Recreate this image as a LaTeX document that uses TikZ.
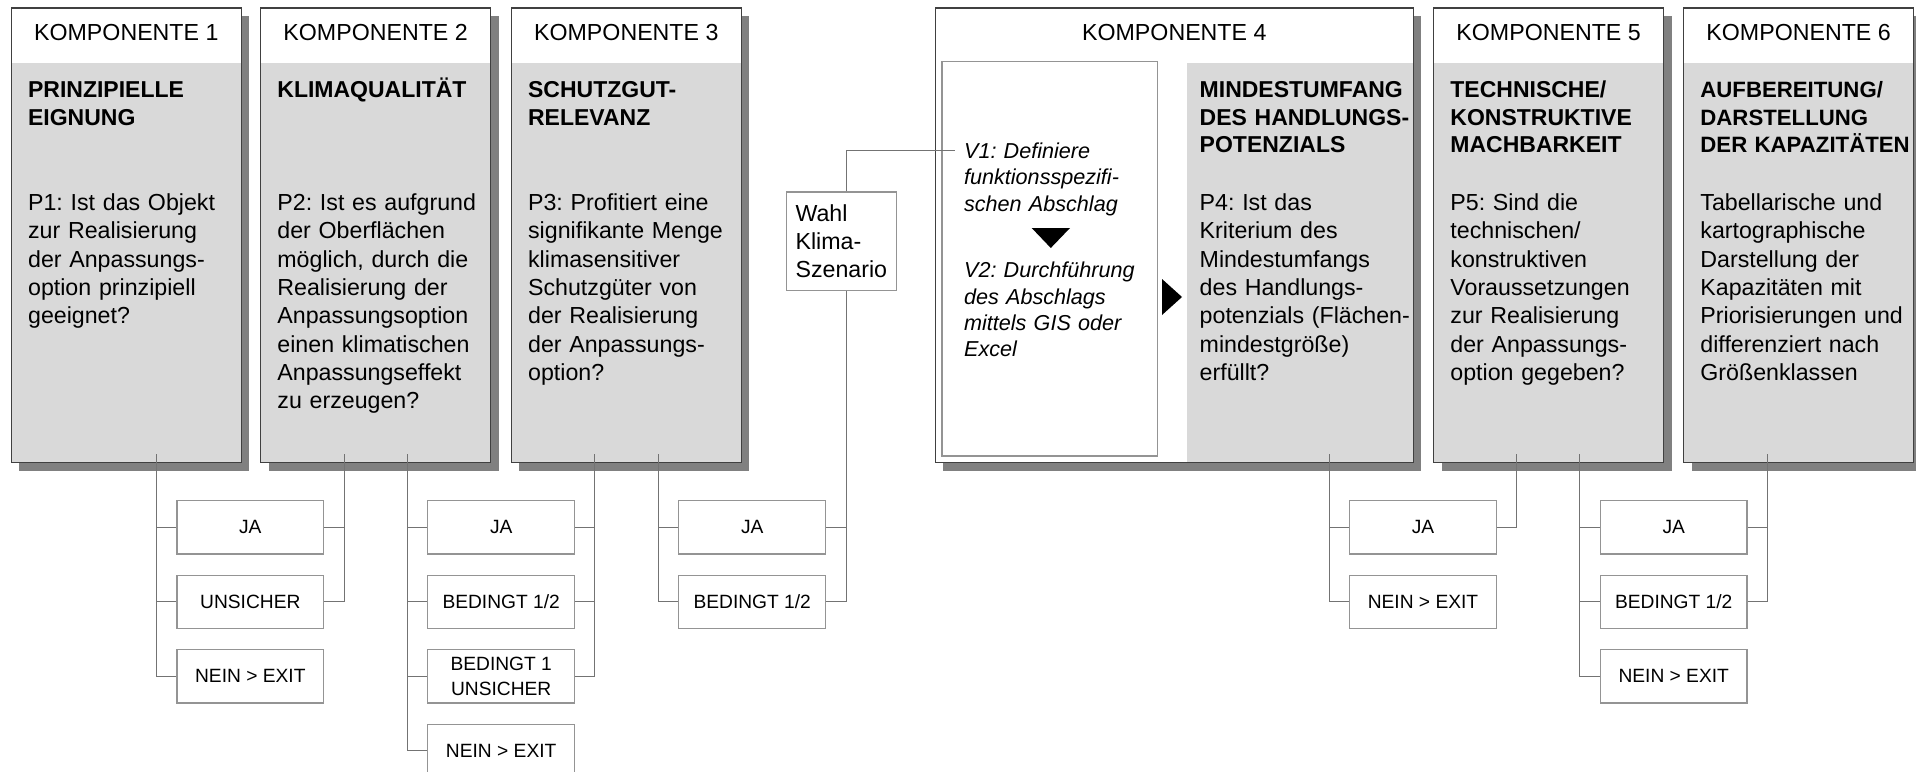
\documentclass[tikz,border=0pt]{standalone}
\usepackage{fontspec}
\setmainfont{Liberation Sans}
\usepackage{tikz}
\usetikzlibrary{positioning,shadows}
\definecolor{kgrau}{gray}{0.85}
\definecolor{rand}{gray}{0.25}
\definecolor{linie}{gray}{0.45}
\definecolor{orand}{gray}{0.58}
\frenchspacing

\begin{document}
\begin{tikzpicture}[x=0.5pt, y=-0.5pt, node distance=10pt,
  komp/.style={draw=rand, line width=0.6pt, fill=kgrau, anchor=north west, inner sep=0pt,
               minimum width=115pt, minimum height=227.35pt,
               drop shadow={shadow xshift=4pt, shadow yshift=-4pt, fill=black!50, opacity=1},
               path picture={\fill[white] (path picture bounding box.north west)
                 rectangle ([yshift=-27.35pt]path picture bounding box.north east);}},
  kopf/.style={anchor=base, inner sep=0pt, font=\fontsize{11.6pt}{14pt}\selectfont},
  titel/.style={anchor=base west, inner sep=0pt, align=left, text width=118pt,
                font=\bfseries\fontsize{11.5pt}{13.75pt}\selectfont},
  frage/.style={anchor=base west, inner sep=0pt, align=left, text width=118pt,
                font=\fontsize{11.6pt}{14.15pt}\selectfont},
  vtext/.style={anchor=base west, inner sep=0pt, align=left, text width=100pt,
                font=\itshape\fontsize{10.8pt}{13.2pt}\selectfont},
  antwort/.style={draw=orand, line width=0.6pt, inner sep=0pt, align=center,
                  minimum width=73.35pt, minimum height=26.65pt, font=\fontsize{9.6pt}{12.85pt}\selectfont},
  con/.style={draw=linie, line width=0.5pt}]
\useasboundingbox (0,0) rectangle (1916,771);

% Komponenten
\node[komp] (k1) at (10.7,7.3) {};
\node[komp] (k2) at (260,7.3) {};
\node[komp] (k3) at (510.7,7.3) {};
\node[komp, minimum width=239pt, fill=white,
      path picture={\fill[kgrau] ([xshift=126pt,yshift=-27.35pt]path picture bounding box.north west)
        rectangle (path picture bounding box.south east);}] (k4) at (934.7,7.3) {};
\node[komp] (k5) at (1433,7.3) {};
\node[komp] (k6) at (1683,7.3) {};

\node[kopf] (h1) at ([yshift=-16.7pt]k1.north) {KOMPONENTE 1};
\node[kopf] (h2) at ([yshift=-16.7pt]k2.north) {KOMPONENTE 2};
\node[kopf] (h3) at ([yshift=-16.7pt]k3.north) {KOMPONENTE 3};
\node[kopf] (h4) at ([yshift=-16.7pt]k4.north) {KOMPONENTE 4};
\node[kopf] (h5) at ([yshift=-16.7pt]k5.north) {KOMPONENTE 5};
\node[kopf] (h6) at ([yshift=-16.7pt]k6.north) {KOMPONENTE 6};

\node[titel] (t1) at ([shift={(8.5pt,-45.2pt)}]k1.north west) {PRINZIPIELLE\\EIGNUNG};
\node[titel] (t2) at ([shift={(8.5pt,-45.2pt)}]k2.north west) {KLIMAQUALITÄT};
\node[titel] (t3) at ([shift={(8.5pt,-45.2pt)}]k3.north west) {SCHUTZGUT-\\RELEVANZ};
\node[titel] (t4) at ([shift={(132.3pt,-45.2pt)}]k4.north west) {MINDESTUMFANG\\DES HANDLUNGS-\\POTENZIALS};
\node[titel] (t5) at ([shift={(8.5pt,-45.2pt)}]k5.north west) {TECHNISCHE/\\KONSTRUKTIVE\\MACHBARKEIT};
\node[titel, font=\bfseries\fontsize{11.1pt}{13.75pt}\selectfont] (t6) at ([shift={(8.5pt,-45.2pt)}]k6.north west)
  {AUFBEREITUNG/\\DARSTELLUNG\\DER KAPAZITÄTEN};

\node[frage] (p1) at ([shift={(8.5pt,-101.6pt)}]k1.north west)
  {P1: Ist das Objekt\\zur Realisierung\\der Anpassungs-\\option prinzipiell\\geeignet?};
\node[frage] (p2) at ([shift={(8.5pt,-101.6pt)}]k2.north west)
  {P2: Ist es aufgrund\\der Oberflächen\\möglich, durch die\\Realisierung der\\Anpassungsoption\\einen klimatischen\\Anpassungseffekt\\zu erzeugen?};
\node[frage] (p3) at ([shift={(8.5pt,-101.6pt)}]k3.north west)
  {P3: Profitiert eine\\signifikante Menge\\klimasensitiver\\Schutzgüter von\\der Realisierung\\der Anpassungs-\\option?};
\node[frage] (p4) at ([shift={(132.3pt,-101.6pt)}]k4.north west)
  {P4: Ist das\\Kriterium des\\Mindestumfangs\\des Handlungs-\\potenzials (Flächen-\\mindestgröße)\\erfüllt?};
\node[frage] (p5) at ([shift={(8.5pt,-101.6pt)}]k5.north west)
  {P5: Sind die\\technischen/\\konstruktiven\\Voraussetzungen\\zur Realisierung\\der Anpassungs-\\option gegeben?};
\node[frage] (p6) at ([shift={(8.5pt,-101.6pt)}]k6.north west)
  {Tabellarische und\\kartographische\\Darstellung der\\Kapazitäten mit\\Priorisierungen und\\differenziert nach\\Größenklassen};

% Komponente 4: Vorbereitung
\node[draw=orand, line width=0.6pt, minimum width=107.85pt, minimum height=197.15pt, inner sep=0pt] (vrahmen) at (1049.85,258.85) {};
\node[vtext] (v1) at ([shift={(11.15pt,-48.65pt)}]vrahmen.north west) {V1: Definiere\\funktionsspezifi-\\schen Abschlag};
\node[vtext] (v2) at ([shift={(11.15pt,-108.3pt)}]vrahmen.north west) {V2: Durchführung\\des Abschlags\\mittels GIS oder\\Excel};
\fill (1031.7,228) -- (1070,228) -- (1050.8,248) -- cycle;
\fill (1162,279) -- (1182,297) -- (1162,315) -- cycle;
\coordinate (v1ein) at ([shift={(7pt,-44.5pt)}]vrahmen.north west);

\node[draw=orand, line width=0.6pt, align=left, inner xsep=4.6pt, inner ysep=6pt,
      minimum width=54.35pt, minimum height=49.35pt, font=\fontsize{11.6pt}{14pt}\selectfont]
  (wahl) at (841.3,241.3) {Wahl\\Klima-\\Szenario};

% Antworten
\node[antwort] (o1a) at (250.3,527.3) {JA};
\node[antwort, below=of o1a] (o1b) {UNSICHER};
\node[antwort, below=of o1b] (o1c) {NEIN > EXIT};

\node[antwort] (o2a) at (501.2,527.3) {JA};
\node[antwort, below=of o2a] (o2b) {BEDINGT 1/2};
\node[antwort, below=of o2b] (o2c) {BEDINGT 1\\UNSICHER};
\node[antwort, below=of o2c] (o2d) {NEIN > EXIT};

\node[antwort] (o3a) at (752.2,527.3) {JA};
\node[antwort, below=of o3a] (o3b) {BEDINGT 1/2};

\node[antwort] (o4a) at (1423,527.3) {JA};
\node[antwort, below=of o4a] (o4b) {NEIN > EXIT};

\node[antwort] (o5a) at (1673.7,527.3) {JA};
\node[antwort, below=of o5a] (o5b) {BEDINGT 1/2};
\node[antwort, below=of o5b] (o5c) {NEIN > EXIT};

% Verbindungen
\coordinate (k1aus) at (156.7,454);  \coordinate (k2ein) at (344,454);
\coordinate (k2aus) at (407.3,454);  \coordinate (k3ein) at (594.7,454);
\coordinate (k3aus) at (658.3,454);
\coordinate (k4aus) at (1329.3,454); \coordinate (k5ein) at (1516.7,454);
\coordinate (k5aus) at (1579.7,454); \coordinate (k6ein) at (1767.3,454);

\draw[con] (k1aus) |- (o1a.west); \draw[con] (k1aus) |- (o1b.west); \draw[con] (k1aus) |- (o1c.west);
\draw[con] (o1a.east) -| (k2ein); \draw[con] (o1b.east) -| (k2ein);
\draw[con] (k2aus) |- (o2a.west); \draw[con] (k2aus) |- (o2b.west);
\draw[con] (k2aus) |- (o2c.west); \draw[con] (k2aus) |- (o2d.west);
\draw[con] (o2a.east) -| (k3ein); \draw[con] (o2b.east) -| (k3ein); \draw[con] (o2c.east) -| (k3ein);
\draw[con] (k3aus) |- (o3a.west); \draw[con] (k3aus) |- (o3b.west);
\draw[con] (o3a.east) -| ([xshift=2.35pt]wahl.south); \draw[con] (o3b.east) -| ([xshift=2.35pt]wahl.south);
\draw[con] ([xshift=2.35pt]wahl.north) |- (v1ein);
\draw[con] (k4aus) |- (o4a.west); \draw[con] (k4aus) |- (o4b.west);
\draw[con] (o4a.east) -| (k5ein);
\draw[con] (k5aus) |- (o5a.west); \draw[con] (k5aus) |- (o5b.west); \draw[con] (k5aus) |- (o5c.west);
\draw[con] (o5a.east) -| (k6ein); \draw[con] (o5b.east) -| (k6ein);
\end{tikzpicture}
\end{document}
